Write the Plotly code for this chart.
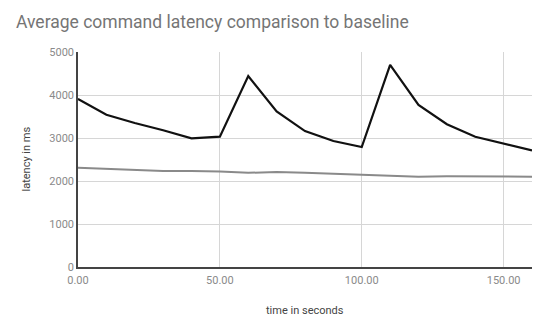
import plotly.graph_objects as go

time_s = [0, 10, 20, 30, 40, 50, 60, 70, 80, 90, 100, 110, 120, 130, 140, 150, 160]
latency_test = [3910, 3540, 3350, 3180, 2990, 3030, 4440, 3620, 3160, 2930, 2790, 4700, 3770, 3320, 3030, 2870, 2710]
latency_baseline = [2310, 2280, 2250, 2230, 2230, 2220, 2190, 2210, 2190, 2170, 2150, 2120, 2100, 2110, 2110, 2100, 2100]
x_ticks = [0, 50, 100, 150]
x_tick_labels = ["0.00", "50.00", "100.00", "150.00"]
y_ticks = [0, 1000, 2000, 3000, 4000, 5000]

W, H = 550, 327
ML, MR, MT, MB = 78, 18, 52, 60
PW, PH = W - ML - MR, H - MT - MB

fig = go.Figure()
fig.add_trace(go.Scatter(x=time_s, y=latency_baseline, mode="lines",
                         line=dict(color="#8a8a8a", width=2), showlegend=False))
fig.add_trace(go.Scatter(x=time_s, y=latency_test, mode="lines",
                         line=dict(color="#111111", width=2.2), showlegend=False))

font_family = "Roboto, Arial, sans-serif"
fig.update_layout(
    width=W, height=H,
    margin=dict(l=ML, r=MR, t=MT, b=MB, autoexpand=False),
    paper_bgcolor="white", plot_bgcolor="white",
    font=dict(family=font_family, color="#757575", size=11),
    xaxis=dict(range=[0, 160], tickvals=x_ticks, ticktext=x_tick_labels,
               showgrid=True, gridcolor="#d6d6d6", gridwidth=1,
               showline=True, linecolor="#444444", linewidth=1.5,
               zeroline=False, ticks="", automargin=False,
               ticklabelstandoff=2,
               tickfont=dict(size=11, color="#8a8a8a")),
    yaxis=dict(range=[0, 5000], tickvals=y_ticks,
               showgrid=True, gridcolor="#d6d6d6", gridwidth=1,
               showline=True, linecolor="#444444", linewidth=1.5,
               zeroline=False, ticks="", automargin=False,
               tickfont=dict(size=11, color="#8a8a8a")),
)
fig.add_annotation(text="Average command latency comparison to baseline",
                   xref="paper", yref="paper",
                   x=(14 - ML) / PW, y=1 + (MT - 22) / PH,
                   xanchor="left", yanchor="middle", showarrow=False,
                   font=dict(size=17.5, color="#757575", family=font_family))
fig.add_annotation(text="time in seconds", xref="paper", yref="paper",
                   x=0.5, y=-(310 - (H - MB)) / PH,
                   xanchor="center", yanchor="middle", showarrow=False,
                   font=dict(size=11, color="#444444", family=font_family))
fig.add_annotation(text="latency in ms", xref="paper", yref="paper",
                   x=-(ML - 26) / PW, y=0.5, textangle=-90,
                   xanchor="center", yanchor="middle", showarrow=False,
                   font=dict(size=11, color="#444444", family=font_family))
fig.write_html("out.html", config={"displayModeBar": False},
               post_script="document.body.style.margin='0';")
